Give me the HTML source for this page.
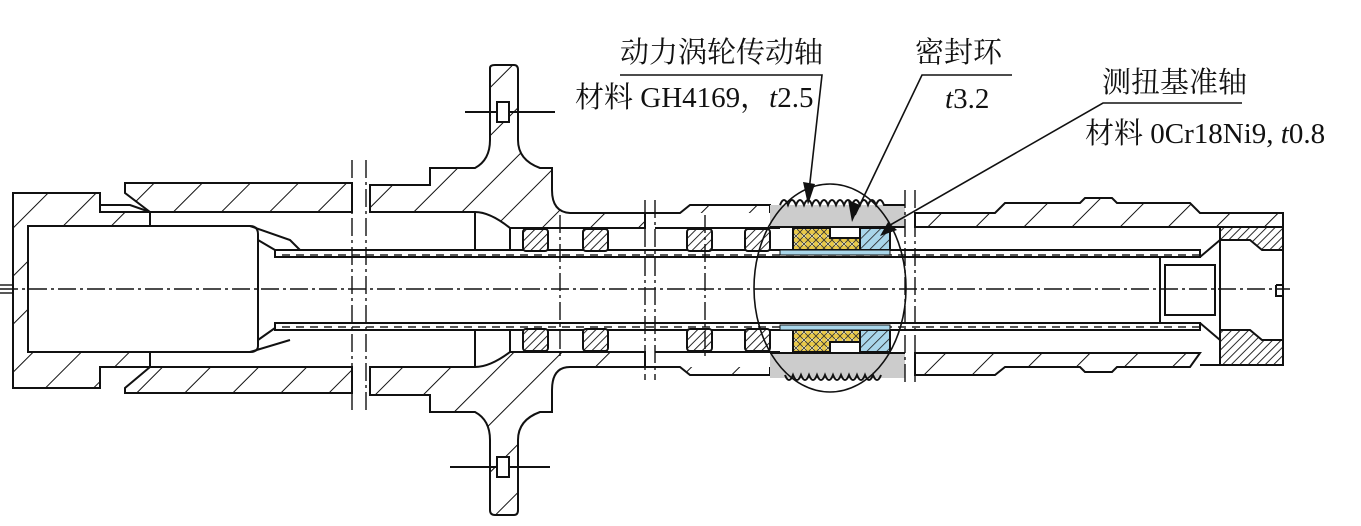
<!DOCTYPE html>
<html><head><meta charset="utf-8"><style>
html,body{margin:0;padding:0;background:#fff;}
svg{display:block;}
text{font-family:"Liberation Serif","Noto Serif CJK SC","Noto Sans CJK SC",serif;font-size:29px;fill:#111;}
</style></head><body>
<svg width="1361" height="526" viewBox="0 0 1361 526" xmlns="http://www.w3.org/2000/svg">
<defs>
<pattern id="h" patternUnits="userSpaceOnUse" width="34" height="34" patternTransform="rotate(45)">
<rect width="34" height="34" fill="#fff"/><line x1="0" y1="0" x2="0" y2="34" stroke="#111" stroke-width="2"/></pattern>
<pattern id="hd" patternUnits="userSpaceOnUse" width="6" height="6" patternTransform="rotate(45)">
<rect width="6" height="6" fill="#fff"/><line x1="0" y1="0" x2="0" y2="6" stroke="#111" stroke-width="1.8"/></pattern>
<pattern id="hb" patternUnits="userSpaceOnUse" width="7" height="7" patternTransform="rotate(45)">
<rect width="7" height="7" fill="#a9d6ea"/><line x1="0" y1="0" x2="0" y2="7" stroke="#222" stroke-width="1.6"/></pattern>
<pattern id="hy" patternUnits="userSpaceOnUse" width="8" height="8">
<rect width="8" height="8" fill="#e9c94a"/><circle cx="4" cy="4" r="2" fill="#fff6c0"/><path d="M0 0L8 8M8 0L0 8" stroke="#333" stroke-width="0.8"/></pattern>
<pattern id="tw" patternUnits="userSpaceOnUse" width="14" height="6">
<rect width="14" height="6" fill="#fff"/><line x1="2" y1="3" x2="10" y2="3" stroke="#111" stroke-width="1.4"/></pattern>
</defs>
<g stroke="#111" stroke-width="2" fill="none">
<!-- left end piece -->
<path d="M13 193 H100 V212 H150 V226 H28 V352 H150 V367 H100 V388 H13 Z" fill="url(#h)"/>
<path d="M100 205 L130 205 L150 212" />
<!-- left outer tube -->
<path d="M125 193 V183 H352 V212 H150 Z" fill="url(#h)"/>
<path d="M150 367 H352 V393 H125 V388 Z" fill="url(#h)"/>
<path d="M150 226 H250 Q258 226 258 234 V346 Q258 352 250 352 H150"/>
<path d="M258 240 L275 250 M258 340 L275 328"/>
<path d="M250 226 L290 240 L300 250 M250 352 L290 340"/>
<!-- inner thin tube -->
<rect x="275" y="250" width="925" height="7" fill="url(#tw)"/>
<rect x="275" y="323" width="925" height="7" fill="url(#tw)"/>
<!-- hub -->
<path d="M370 185 H430 V168 H475 Q490 160 490 140 V68 Q490 65 495 65 H514 Q518 65 518 70 V140 Q518 160 540 168 H552 V190 Q552 212 570 213 H645 V228 H510 Q490 212 475 212 H370 Z" fill="url(#h)"/>
<path d="M370 395 H430 V412 H475 Q490 420 490 440 V510 Q490 515 495 515 H514 Q518 515 518 510 V440 Q518 420 540 412 H552 V390 Q552 367 570 367 H645 V352 H510 Q490 367 475 367 H370 Z" fill="url(#h)"/>
<path d="M475 212 V250 M475 330 V367 M510 228 V250 M510 330 V352"/>
<line x1="465" y1="112" x2="555" y2="112"/><line x1="450" y1="467" x2="550" y2="467"/>
<rect x="497" y="102" width="12" height="20" fill="#fff"/><rect x="497" y="457" width="12" height="20" fill="#fff"/>
<!-- seals section 1 -->
<path d="M655 213 H680 L690 205 H770 V213" fill="url(#h)"/>
<path d="M655 228 H780" />
<path d="M655 367 H680 L690 375 H770 V367" fill="url(#h)"/>
<path d="M655 352 H780"/>
<path d="M645 213 H655 M645 367 H655"/>
<g fill="url(#hd)">
<rect x="523" y="229" width="25" height="22" rx="3"/><rect x="583" y="229" width="25" height="22" rx="3"/>
<rect x="687" y="229" width="25" height="22" rx="3"/><rect x="745" y="229" width="25" height="22" rx="3"/>
<rect x="523" y="329" width="25" height="22" rx="3"/><rect x="583" y="329" width="25" height="22" rx="3"/>
<rect x="687" y="329" width="25" height="22" rx="3"/><rect x="745" y="329" width="25" height="22" rx="3"/>
</g>
<!-- ellipse detail region -->
<path d="M770 205 H905 V227 H770 Z" fill="#ccc" stroke="none"/>
<path d="M770 353 H905 V378 H770 Z" fill="#ccc" stroke="none"/>
<path d="M780 205 q4 -10 8 0 q4 -10 8 0 q4 -10 8 0 q4 -10 8 0 q4 -10 8 0 q4 -10 8 0 q4 -10 8 0 q4 -10 8 0 q4 -10 8 0 q4 -10 8 0 q4 -10 8 0 q4 -10 8 0 q4 -10 8 0 H905"/>
<path d="M785 375 q4 10 8 0 q4 10 8 0 q4 10 8 0 q4 10 8 0 q4 10 8 0 q4 10 8 0 q4 10 8 0 q4 10 8 0 q4 10 8 0 q4 10 8 0 q4 10 8 0 q4 10 8 0"/>
<path d="M770 227 H905 M770 353 H905"/>
<path d="M793 228 H830 V238 H860 V250 H793 Z" fill="url(#hy)"/>
<path d="M793 352 H830 V342 H860 V330 H793 Z" fill="url(#hy)"/>
<rect x="860" y="228" width="30" height="22" fill="url(#hb)"/>
<rect x="860" y="330" width="30" height="22" fill="url(#hb)"/>
<rect x="780" y="250" width="110" height="5" fill="#a9d6ea" stroke-width="1"/>
<rect x="780" y="325" width="110" height="5" fill="#a9d6ea" stroke-width="1"/>
<ellipse cx="830" cy="288" rx="76" ry="104" stroke-width="1.6"/>
<!-- right section -->
<path d="M915 213 H995 L1005 203 H1080 L1085 198 H1112 L1117 203 H1190 L1200 213 H1283 V227 H915 Z" fill="url(#h)"/>
<path d="M915 353 H1200 L1190 367 H1117 L1112 372 H1085 L1080 367 H1005 L995 375 H915 Z" fill="url(#h)"/>
<path d="M1220 227 H1283 V250 H1262 L1250 240 H1220 Z" fill="url(#hd)"/>
<path d="M1220 330 H1250 L1262 340 H1283 V365 H1220 Z" fill="url(#hd)"/>
<path d="M1200 257 L1220 240 V340 L1200 323 M1283 213 V365 H1200"/>
<path d="M1165 265 H1215 V315 H1165 Z M1160 258 V322"/>
<path d="M1276 285 H1283 M1276 285 V296 H1283"/>
<!-- break lines -->
<g stroke-dasharray="18 4 3 4" stroke-width="1.4">
<line x1="352" y1="160" x2="352" y2="410"/><line x1="366" y1="160" x2="366" y2="410"/>
<line x1="645" y1="200" x2="645" y2="380"/><line x1="655" y1="200" x2="655" y2="380"/>
<line x1="905" y1="190" x2="905" y2="385"/><line x1="915" y1="190" x2="915" y2="385"/>
<line x1="560" y1="215" x2="560" y2="360"/><line x1="705" y1="215" x2="705" y2="360"/>
<line x1="0" y1="289" x2="1290" y2="289"/>
</g>
<line x1="0" y1="285" x2="13" y2="285" stroke-width="1.4"/><line x1="0" y1="293" x2="13" y2="293" stroke-width="1.4"/>
<!-- leaders -->
<path d="M620 75 H822 L808 200" stroke-width="1.6"/>
<path d="M1012 75 H922 L855 215" stroke-width="1.6"/>
<path d="M1242 103 H1103 L885 228" stroke-width="1.6"/>
</g>
<g fill="#111">
<polygon points="803,182 815,184 808,205"/>
<polygon points="848,200 860,205 852,222"/>
<polygon points="888,222 897,230 880,236"/>
</g>
<text x="620" y="62">动力涡轮传动轴</text>
<text x="575" y="107">材料 GH4169，<tspan font-style="italic">t</tspan>2.5</text>
<text x="915" y="62">密封环</text>
<text x="945" y="108"><tspan font-style="italic">t</tspan>3.2</text>
<text x="1102" y="92">测扭基准轴</text>
<text x="1085" y="143">材料 0Cr18Ni9, <tspan font-style="italic">t</tspan>0.8</text>
</svg>
</body></html>
